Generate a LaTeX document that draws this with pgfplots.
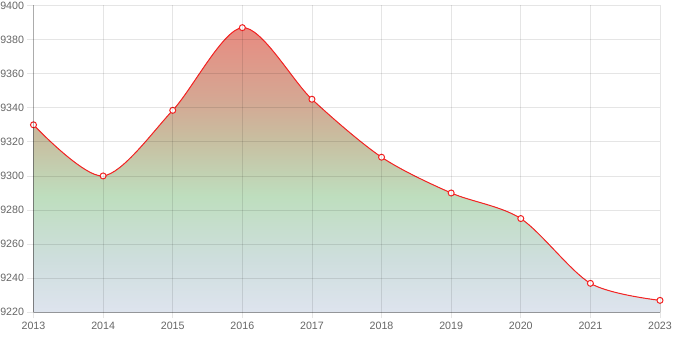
\documentclass[border=0pt]{standalone}
\usepackage{pgfplots}
\pgfplotsset{compat=1.18}
\usepgfplotslibrary{fillbetween}
\usepackage{fontspec}
\setmainfont{Liberation Sans}
\definecolor{tickgray}{RGB}{102,102,102}
\definecolor{gridgray}{RGB}{229,229,229}
\definecolor{linered}{RGB}{245,35,35}
\definecolor{sA}{RGB}{232,138,128}
\definecolor{sB}{RGB}{213,167,147}
\definecolor{sC}{RGB}{200,190,160}
\definecolor{sD}{RGB}{190,222,190}
\definecolor{sE}{RGB}{206,222,221}
\definecolor{sF}{RGB}{222,228,238}
\pgfdeclareverticalshading{areafill}{100bp}{color(0bp)=(sF); color(25bp)=(sF); color(34.2bp)=(sE); color(45.3bp)=(sD); color(55.3bp)=(sC); color(62.3bp)=(sB); color(75bp)=(sA); color(100bp)=(sA)}
\pgfplotstableread{
x y
0 9330
1 9300
2 9338.5
3 9387
4 9345
5 9311
6 9290
7 9275
8 9237
9 9227
}\datatable
\begin{document}
\begin{tikzpicture}
\begin{axis}[
  at={(0,0)}, anchor=south west,
  scale only axis, width=626.5bp, height=306.8bp,
  xmin=0, xmax=9, ymin=9220, ymax=9400,
  xtick={0,...,9},
  xticklabels={2013,2014,2015,2016,2017,2018,2019,2020,2021,2023},
  ytick={9220,9240,...,9400},
  grid=major,
  axis on top,
  grid style={draw=black, draw opacity=0.1, line width=0.8bp},
  axis y line*=left, axis x line*=bottom,
  y axis line style={draw=black, draw opacity=0.25, line width=0.8bp},
  x axis line style={draw=black, draw opacity=0.1, line width=0.8bp},
  tick style={draw=black, draw opacity=0.1, line width=0.8bp},
  tick align=outside, major tick length=6bp,
  ticklabel style={font=\fontsize{10.7}{12}\selectfont, text=tickgray},
  /pgf/number format/assume math mode=true,
  /pgf/number format/1000 sep={},
  clip=false,
]
\addplot[name path=curve, draw=none, smooth, forget plot] table[x=x,y=y] {\datatable};
\addplot[name path=base, draw=none, forget plot] coordinates {(0,9220) (9,9220)};
\addplot[shading=areafill, draw=none] fill between[of=curve and base];
\addplot[linered, line width=1bp, smooth, mark=*, mark size=3bp,
  mark options={fill=white, draw=linered, line width=1bp}] table[x=x,y=y] {\datatable};
\end{axis}
\pgfresetboundingbox
\useasboundingbox (-33.5bp,-24.7bp) rectangle (640.5bp,312.3bp);
\end{tikzpicture}
\end{document}
